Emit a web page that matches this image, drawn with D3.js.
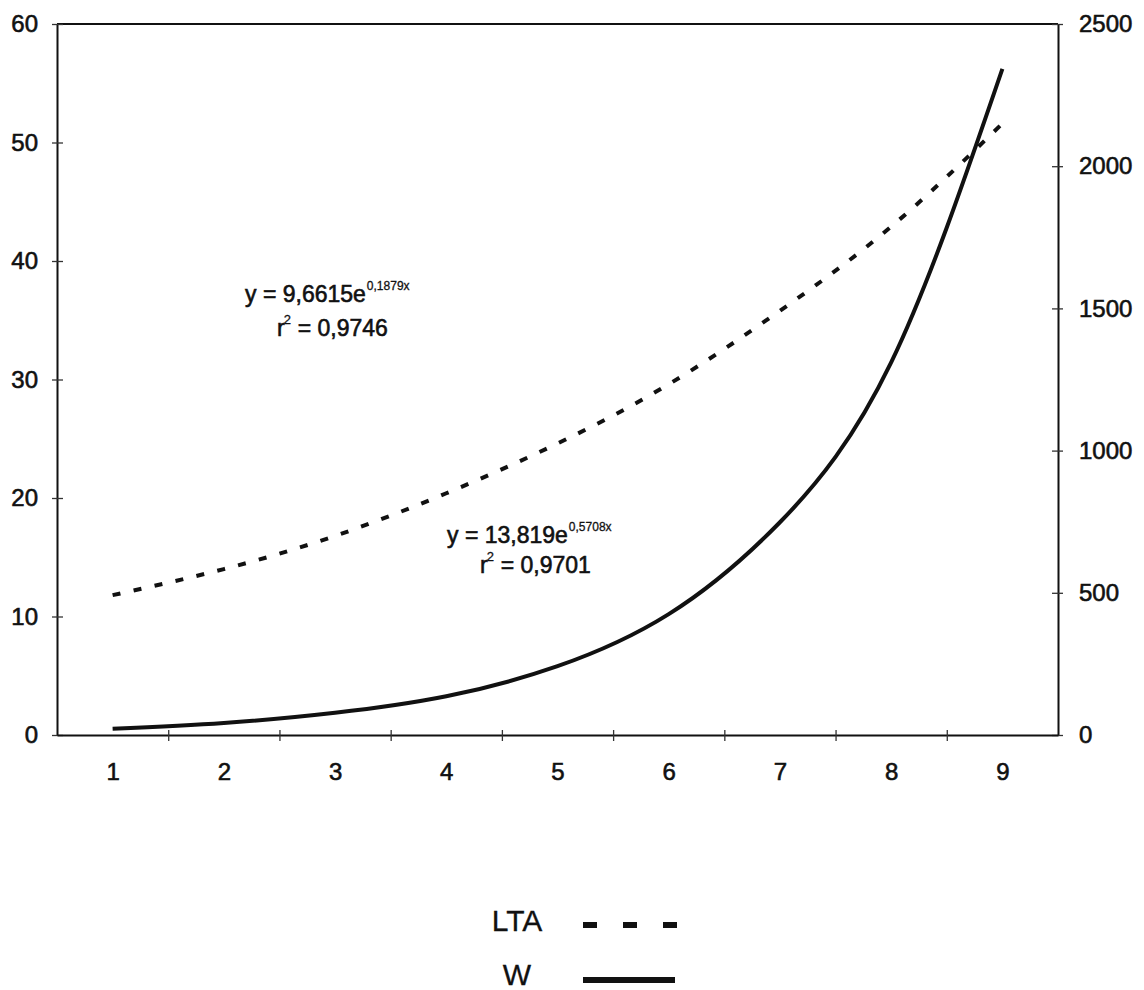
<!DOCTYPE html>
<html><head><meta charset="utf-8">
<script src="https://cdn.jsdelivr.net/npm/d3@7"></script>
<style>
body{margin:0;background:#fff;}
text{font-family:"Liberation Sans",Arial,sans-serif;fill:#111;stroke:#111;stroke-width:0.6px;}
</style></head>
<body><svg id="c" width="1144" height="990"></svg>
<script>
const categories = [1,2,3,4,5,6,7,8,9];
const ltaValues = [11.8, 14.0, 16.8, 20.4, 24.6, 29.6, 35.8, 42.9, 51.6];
const wValues = [22, 42, 78, 136, 242, 425, 748, 1310, 2342];
const leftTicks = [0,10,20,30,40,50,60];
const rightTicks = [0,500,1000,1500,2000,2500];
const seriesNames = ["LTA","W"];

const svg = d3.select("#c");
const L=57, R=1058, T=24, B=735;
const x = d3.scaleLinear().domain([0.5,9.5]).range([L,R]);
const yL = d3.scaleLinear().domain([0,60]).range([B,T]);
const yR = d3.scaleLinear().domain([0,2500]).range([B,T]);

svg.append("line").attr("x1",L).attr("x2",R).attr("y1",T).attr("y2",T)
  .attr("stroke","#111").attr("stroke-width",2);

function styleAxis(g){
  g.select(".domain").attr("stroke","#111").attr("stroke-width",2);
  g.selectAll(".tick line").attr("stroke","#333").attr("stroke-width",1.3);
  g.selectAll("text").style("font-size","24px").style("font-family","'Liberation Sans',Arial,sans-serif").attr("fill","#111");
}

const gl = svg.append("g").attr("transform",`translate(${L},0)`)
  .call(d3.axisLeft(yL).tickValues(leftTicks).tickSize(5).tickPadding(14).tickSizeOuter(0).tickFormat(d3.format("d")));
styleAxis(gl);
gl.selectAll(".tick line").attr("x1",6);

const gr = svg.append("g").attr("transform",`translate(${R},0)`)
  .call(d3.axisRight(yR).tickValues(rightTicks).tickSize(5).tickPadding(16).tickSizeOuter(0).tickFormat(d3.format("d")));
styleAxis(gr);
gr.selectAll(".tick line").attr("x1",-6);

const gb = svg.append("g").attr("transform",`translate(0,${B})`)
  .call(d3.axisBottom(x).tickValues(d3.range(1.5,9,1)).tickSize(6).tickFormat("").tickSizeOuter(0));
styleAxis(gb);
gb.selectAll(".tick line").attr("y1",-5);
const gb2 = svg.append("g").attr("transform",`translate(0,${B})`)
  .call(d3.axisBottom(x).tickValues(categories).tickSize(0).tickPadding(28).tickFormat(d3.format("d")));
gb2.select(".domain").remove();
styleAxis(gb2);

const lineL = d3.line().x((d,i)=>x(categories[i])).y(d=>yL(d)).curve(d3.curveNatural);
const lineR = d3.line().x((d,i)=>x(categories[i])).y(d=>yR(d)).curve(d3.curveNatural);

svg.append("path").datum(ltaValues).attr("d",lineL).attr("fill","none")
  .attr("stroke","#111").attr("stroke-width",4).attr("stroke-dasharray","8,13.5");
svg.append("path").datum(wValues).attr("d",lineR).attr("fill","none")
  .attr("stroke","#111").attr("stroke-width",4);

function eq(xp, yp, main, sup, r2x, r2y, r2){
  const t = svg.append("text").attr("x",xp).attr("y",yp).style("font-size","23px").text(main);
  const w = t.node().getComputedTextLength();
  svg.append("text").attr("x",xp+w+1).attr("y",yp-12).style("font-size","12px").style("stroke-width","0.3px").text(sup);
  const r = svg.append("text").attr("x",r2x).attr("y",r2y).style("font-size","23px").text("r");
  const rw = r.node().getComputedTextLength();
  svg.append("text").attr("x",r2x+rw-1).attr("y",r2y-12).style("font-size","13px").style("stroke-width","0.3px").text("2");
  svg.append("text").attr("x",r2x+rw+13).attr("y",r2y).style("font-size","23px").text("= " + r2);
}
eq(245, 302, "y = 9,6615e", "0,1879x", 277, 336, "0,9746");
eq(447, 543, "y = 13,819e", "0,5708x", 480, 573, "0,9701");

svg.append("text").attr("x",517).attr("y",931).attr("text-anchor","middle").style("font-size","30px").style("stroke-width","0.3px").text(seriesNames[0]);
svg.append("text").attr("x",517).attr("y",985).attr("text-anchor","middle").style("font-size","30px").style("stroke-width","0.3px").text(seriesNames[1]);
svg.append("line").attr("x1",583).attr("x2",677).attr("y1",925).attr("y2",925)
  .attr("stroke","#111").attr("stroke-width",6).attr("stroke-dasharray","14,26");
svg.append("line").attr("x1",583).attr("x2",675).attr("y1",980).attr("y2",980)
  .attr("stroke","#111").attr("stroke-width",6);
</script></body></html>
